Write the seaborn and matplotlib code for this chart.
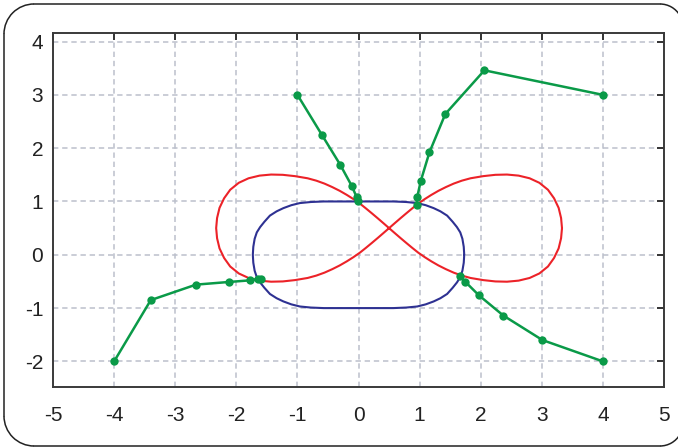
import numpy as np
import matplotlib
matplotlib.use("Agg")
import matplotlib.pyplot as plt
import seaborn as sns
from matplotlib.patches import Arc
from matplotlib.lines import Line2D

# red figure-eight: one quadrant (offsets from its centre), mirrored below
red_center = (0.5, 0.5)
red_qx = [2.830, 2.815, 2.775, 2.700, 2.600, 2.460, 2.300, 2.120, 1.930, 1.740,
          1.540, 1.333, 1.190, 1.057, 0.930, 0.808, 0.690, 0.584, 0.475, 0.379,
          0.280, 0.186, 0.093, 0.0]
red_qy = [0.000, 0.190, 0.380, 0.560, 0.720, 0.850, 0.935, 0.985, 1.005, 1.000,
          0.975, 0.935, 0.890, 0.835, 0.770, 0.700, 0.622, 0.545, 0.458, 0.370,
          0.276, 0.185, 0.093, 0.0]

# blue rounded box: one quadrant, mirrored below
blue_qx = [1.730, 1.722, 1.700, 1.665, 1.610, 1.540, 1.450, 1.340, 1.230,
           1.100, 0.960, 0.780, 0.570, 0.300, 0.0]
blue_qy = [0.000, 0.150, 0.300, 0.420, 0.520, 0.620, 0.735, 0.815, 0.875,
           0.930, 0.970, 0.990, 1.000, 1.000, 1.0]

# green paths (iterates)
path_a_x = [-4.0, -3.40, -2.66, -2.12, -1.78, -1.64, -1.60]
path_a_y = [-2.0, -0.85, -0.56, -0.51, -0.48, -0.455, -0.45]
path_b_x = [-1.0, -0.60, -0.30, -0.11, -0.03, -0.01]
path_b_y = [3.0, 2.25, 1.69, 1.29, 1.08, 1.01]
path_c_x = [4.0, 2.06, 1.42, 1.16, 1.02, 0.96, 0.95]
path_c_y = [3.0, 3.46, 2.64, 1.92, 1.39, 1.08, 0.94]
path_d_x = [4.0, 3.01, 2.37, 1.97, 1.75, 1.66]
path_d_y = [-2.0, -1.60, -1.14, -0.76, -0.51, -0.40]

x_ticks = [-5, -4, -3, -2, -1, 0, 1, 2, 3, 4, 5]
y_ticks = [-2, -1, 0, 1, 2, 3, 4]

# closed loops from the quadrants
rx, ry = np.array(red_qx), np.array(red_qy)
red_x = np.concatenate([rx, -rx[::-1], -rx, rx[::-1]]) + red_center[0]
red_y = np.concatenate([ry, -ry[::-1], ry, -ry[::-1]]) + red_center[1]
bx, by = np.array(blue_qx), np.array(blue_qy)
blue_x = np.concatenate([bx, -bx[::-1], -bx, bx[::-1]])
blue_y = np.concatenate([by, by[::-1], -by, -by[::-1]])

sns.set_theme(style="white")
plt.rcParams["font.family"] = ["Liberation Sans", "DejaVu Sans"]
plt.rcParams["savefig.bbox"] = "standard"

fig = plt.figure(figsize=(6.78, 4.48), dpi=100)
ax = fig.add_axes([0.0782, 0.1362, 0.9012, 0.7901])

red = "#ec2228"
blue = "#2e3192"
green = "#0a9a48"

sns.lineplot(x=red_x, y=red_y, sort=False, estimator=None, color=red, lw=1.5, ax=ax)
sns.lineplot(x=blue_x, y=blue_y, sort=False, estimator=None, color=blue, lw=1.5, ax=ax)
for px, py in [(path_a_x, path_a_y), (path_b_x, path_b_y),
               (path_c_x, path_c_y), (path_d_x, path_d_y)]:
    sns.lineplot(x=px, y=py, sort=False, estimator=None, color=green, lw=1.8,
                 marker="o", markersize=6, markeredgewidth=0, ax=ax)

ax.set_xlim(-5, 5)
ax.set_ylim(-2.48, 4.16)
ax.set_xticks(x_ticks)
ax.set_yticks(y_ticks)
ax.set_xticklabels([str(v) for v in x_ticks])
ax.set_yticklabels([str(v) for v in y_ticks])
ax.grid(True, color="#bcc0cc", ls=(0, (3.5, 2.5)), lw=1.1)
ax.tick_params(direction="in", length=5, width=1.4, colors="#333333",
               labelsize=15, top=True, right=True, labelcolor="#222222")
ax.tick_params(axis="x", pad=14)
ax.tick_params(axis="y", pad=7)
for s in ax.spines.values():
    s.set_visible(True)
    s.set_color("#3a3a3a")
    s.set_linewidth(1.4)

# rounded frame (inches); its right side lies past the image edge
L, B, T = 0.04, 0.02, 4.44
rl, rr = 0.30, 0.23
xr = 6.60  # centre of the right-hand corners
tr = fig.dpi_scale_trans
fkw = dict(color="#222222", lw=1.1, transform=tr)
for xs, ys in [([L + rl, xr], [T, T]), ([L + rl, xr], [B, B]),
               ([L, L], [B + rl, T - rl])]:
    fig.add_artist(Line2D(xs, ys, **fkw))
for cx, cy, r, t1, t2 in [(L + rl, T - rl, rl, 90, 180),
                          (L + rl, B + rl, rl, 180, 270),
                          (xr, T - rr, rr, 30, 90),
                          (xr, B + rr, rr, 270, 330)]:
    fig.add_artist(Arc((cx, cy), 2 * r, 2 * r, theta1=t1, theta2=t2,
                       edgecolor="#222222", lw=1.1, transform=tr))

fig.savefig("out.png", dpi=100)
